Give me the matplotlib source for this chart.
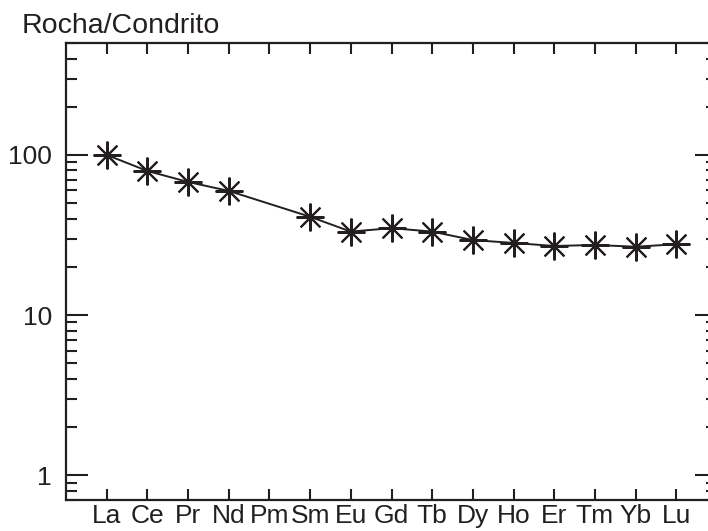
import numpy as np
import matplotlib.pyplot as plt
from matplotlib.ticker import LogLocator, NullFormatter, FixedLocator

plt.rcParams['font.family'] = ['Liberation Sans', 'DejaVu Sans']

elements = ['La', 'Ce', 'Pr', 'Nd', 'Pm', 'Sm', 'Eu', 'Gd', 'Tb', 'Dy', 'Ho', 'Er', 'Tm', 'Yb', 'Lu']
# rock / chondrite ratio, Pm not analysed
values = [100, 79.4, 67.8, 59.6, None, 41.1, 33.2, 34.9, 33.2, 29.4, 28.2, 27.0, 27.4, 26.7, 27.7]
ytick_vals = [1, 10, 100]
ytick_labels = ['1', '10', '100']

ink = '#231f20'

pos = np.arange(1, len(elements) + 1)
xs = [p for p, v in zip(pos, values) if v is not None]
ys = [v for v in values if v is not None]

fig = plt.figure(figsize=(7.08, 5.31), dpi=100)
ax = fig.add_axes([66 / 708, 1 - 500 / 531, (717 - 66) / 708, (500 - 43) / 531])

ax.plot(xs, ys, color=ink, lw=1.4, marker=(8, 2, 0), ms=20, mew=1.5,
        mec=ink, mfc=ink, clip_on=False)

ax.set_yscale('log')
ax.set_ylim(0.7, 500)
ax.set_xlim(0, 16)

ax.set_xticks(pos)
ax.set_xticklabels(elements, fontsize=19)
ax.yaxis.set_major_locator(FixedLocator(ytick_vals))
ax.set_yticklabels(ytick_labels, fontsize=19)
ax.yaxis.set_minor_locator(LogLocator(base=10, subs=np.arange(2, 10), numticks=20))
ax.yaxis.set_minor_formatter(NullFormatter())

ax.tick_params(axis='x', which='major', direction='in', top=True, length=8,
               width=1.5, color=ink, labelcolor=ink, pad=3)
ax.tick_params(axis='y', which='major', direction='in', right=True, length=16,
               width=1.5, color=ink, labelcolor=ink, pad=10)
ax.tick_params(axis='y', which='minor', direction='in', right=True, length=8,
               width=1.5, color=ink)

for sp in ax.spines.values():
    sp.set_linewidth(1.6)
    sp.set_color(ink)

fig.text(22 / 708, 1 - 33 / 531, 'Rocha/Condrito', fontsize=20.5, color=ink)

fig.savefig('out.png', dpi=100)
